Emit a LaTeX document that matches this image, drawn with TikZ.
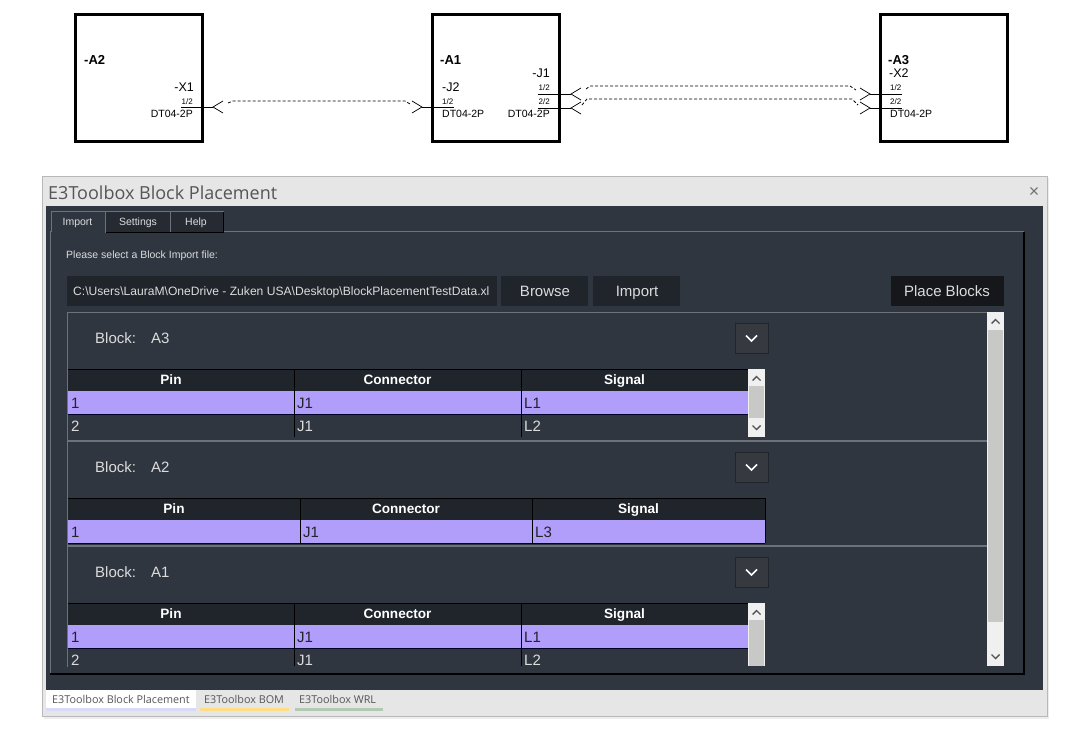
\documentclass[tikz,border=0pt]{standalone}
\usepackage{fontspec}
\setmainfont{Liberation Sans}
\newfontfamily\uifont{Open Sans}
\usetikzlibrary{calc}
\definecolor{panelcol}{HTML}{2F3640}
\definecolor{headcol}{HTML}{20242B}
\definecolor{rowcol}{HTML}{B19DFA}
\definecolor{linecol}{HTML}{6E7278}
\definecolor{rowtext}{HTML}{DCDCDC}
\definecolor{barcol}{HTML}{F0F0F0}
\definecolor{thumbcol}{HTML}{C8C9C7}
\definecolor{arrowcol}{HTML}{555555}
\definecolor{wincol}{HTML}{E6E6E6}
\definecolor{placecol}{HTML}{15171B}
\tikzstyle{blockbox}=[draw=black,line width=3pt]
\tikzstyle{wire}=[black,line width=0.9pt]
\tikzstyle{dashwire}=[black,line width=0.8pt,dash pattern=on 3pt off 2pt]
\tikzstyle{bigtag}=[inner sep=0,font=\fontsize{12.5}{14}\selectfont]
\tikzstyle{boldtag}=[inner sep=0,font=\bfseries\fontsize{13}{14}\selectfont]
\tikzstyle{pintag}=[inner sep=0,font=\fontsize{8}{10}\selectfont]
\tikzstyle{parttag}=[inner sep=0,font=\fontsize{10.5}{11}\selectfont]
\tikzstyle{tabtext}=[inner sep=0,text height=7.5pt,text depth=0pt,text=rowtext,font=\fontsize{10.5}{12}\selectfont]
\tikzstyle{buttontext}=[inner sep=0,text height=10.7pt,text depth=0pt,text=rowtext,font=\fontsize{15}{16}\selectfont]
\tikzstyle{headtext}=[inner sep=0,text height=9.7pt,text depth=0pt,text=white,font=\bfseries\fontsize{13.6}{16}\selectfont]
\tikzstyle{celltext}=[inner sep=0,text height=10.7pt,text depth=0pt,font=\fontsize{15}{16}\selectfont]
\tikzstyle{blocktext}=[inner sep=0,text height=10.7pt,text depth=0pt,text=rowtext,font=\fontsize{15}{16}\selectfont]
\tikzstyle{pathtext}=[inner sep=0,text height=8.7pt,text depth=0pt,text=rowtext,font=\fontsize{12.1}{13}\selectfont]
\tikzstyle{footertext}=[inner sep=0,text=arrowcol,font=\uifont\fontsize{10.8}{12}\selectfont]
\newcommand{\newchevron}[2]{% tip coordinate, direction of the arms
  \draw[wire,line width=0.7pt] ($(#1)+(#2*10,-6)$) -- (#1) -- ($(#1)+(#2*10,6)$);
}
\newcommand{\setcols}[4]{
  \def\colA{#1}\def\colB{#2}\def\colC{#3}\def\colD{#4}
}
\newcommand{\newhead}[2]{% name, top
  \pgfmathsetmacro{\headmid}{#2+11}
  \fill[headcol] (\colA,#2) rectangle (\colD,#2+22);
  \draw[black] (\colA,#2) -- (\colD,#2);
  \draw[black] (\colB,#2) -- (\colB,#2+22) (\colC,#2) -- (\colC,#2+22);
  \node[headtext] (#1p) at ({(\colA+\colB)/2-10},\headmid) {Pin};
  \node[headtext] (#1c) at ({(\colB+\colC)/2-10},\headmid) {Connector};
  \node[headtext] (#1s) at ({(\colC+\colD)/2-10},\headmid) {Signal};
}
\newcommand{\newrow}[7][rowtext]{% text colour, name, top, bottom, three cells
  \pgfmathsetmacro{\rowmid}{#3+12.5}
  \draw[black] (\colB,#3) -- (\colB,#4) (\colC,#3) -- (\colC,#4);
  \node[celltext,text=#1,anchor=west] (#2a) at (\colA+3,\rowmid) {#5};
  \node[celltext,text=#1,anchor=west] (#2b) at (\colB+3,\rowmid) {#6};
  \node[celltext,text=#1,anchor=west] (#2c) at (\colC+3,\rowmid) {#7};
}
\newcommand{\selectrow}[2]{% top, bottom
  \fill[rowcol] (\colA,#1) rectangle (\colD,#2);
  \draw[black!85!blue] (\colA,#2) -- (\colD,#2);
}
\newcommand{\upmark}[2]{
  \draw[arrowcol,line width=1.4pt] (#1-4,#2+2.5) -- (#1,#2-1.5) -- (#1+4,#2+2.5);
}
\newcommand{\downmark}[2]{
  \draw[arrowcol,line width=1.4pt] (#1-4,#2-2.5) -- (#1,#2+1.5) -- (#1+4,#2-2.5);
}
\newcommand{\newbar}[6]{% left, right, top, bottom, thumb top, thumb bottom
  \fill[barcol] (#1,#3) rectangle (#2,#4);
  \fill[thumbcol] (#1+1,#5) rectangle (#2-1,#6);
  \pgfmathsetmacro{\barmid}{(#1+#2)/2}
  \upmark{\barmid}{#3+9}
}
\newcommand{\newblockhead}[3]{% name, centre line, text
  \node[blocktext,anchor=west] (#1) at (95,#2) {Block:\hspace{15pt}#3};
  \draw[fill=headcol!90!white,draw=headcol] (735,#2-15) rectangle (768,#2+15);
  \draw[white,line width=1.6pt] (746,#2-2.5) -- (751.5,#2+3) -- (757,#2-2.5);
}
\begin{document}
\begin{tikzpicture}[x=1pt,y=-1pt]
  \useasboundingbox (0,0) rectangle (1086,731);
  \fill[white] (0,0) rectangle (1086,731);
  % schematic
  \draw[blockbox] (75,14) rectangle (202.5,141);
  \draw[blockbox] (432,14) rectangle (559,141);
  \draw[blockbox] (880,14) rectangle (1007.5,141);
  \node[boldtag,anchor=west] (tagA2) at (84,60) {-A2};
  \node[boldtag,anchor=west] (tagA1) at (440,60) {-A1};
  \node[boldtag,anchor=west] (tagA3) at (888,60) {-A3};
  \node[bigtag,anchor=east] (tagX1) at (194,87) {-X1};
  \node[bigtag,anchor=west] (tagJ2) at (442,87) {-J2};
  \node[bigtag,anchor=east] (tagJ1) at (550,73) {-J1};
  \node[bigtag,anchor=west] (tagX2) at (889,73) {-X2};
  \node[pintag,anchor=east] (pinX1) at (193,102) {1/2};
  \node[pintag,anchor=west] (pinJ2) at (442,102) {1/2};
  \node[pintag,anchor=east] (pinJ1a) at (550,88) {1/2};
  \node[pintag,anchor=east] (pinJ1b) at (550,102) {2/2};
  \node[pintag,anchor=west] (pinX2a) at (890,88) {1/2};
  \node[pintag,anchor=west] (pinX2b) at (890,102) {2/2};
  \node[parttag,anchor=east] (partX1) at (193,114) {DT04-2P};
  \node[parttag,anchor=west] (partJ2) at (442,114) {DT04-2P};
  \node[parttag,anchor=east] (partJ1) at (550,114) {DT04-2P};
  \node[parttag,anchor=west] (partX2) at (890,114) {DT04-2P};
  \coordinate (stubA) at (181,107);
  \coordinate (tipA) at (213,107);
  \coordinate (tipB) at (422,107);
  \coordinate (stubB) at (454,107);
  \coordinate (stubC) at (538,94);
  \coordinate (tipC) at (571,94);
  \coordinate (stubD) at (538,108);
  \coordinate (tipD) at (571,108);
  \coordinate (tipE) at (870,94);
  \coordinate (stubE) at (902,94);
  \coordinate (tipF) at (870,108);
  \coordinate (stubF) at (902,108);
  \foreach \a/\b in {stubA/tipA,tipB/stubB,stubC/tipC,stubD/tipD,tipE/stubE,tipF/stubF}
    \draw[wire] (\a) -- (\b);
  \foreach \t in {tipA,tipC,tipD} {\newchevron{\t}{1}}
  \foreach \t in {tipB,tipE,tipF} {\newchevron{\t}{-1}}
  \draw[dashwire] ($(tipA)+(15,-4)$) -- ($(tipA)+(20,-6)$) -- ($(tipB)+(-17,-6)$) -- ($(tipB)+(-12,-3)$);
  \draw[dashwire] ($(tipC)+(15,-5)$) -- ($(tipC)+(19,-8)$) -- ($(tipE)+(-20,-8)$) -- ($(tipE)+(-14,-4)$);
  \draw[dashwire] ($(tipD)+(11,-3)$) -- ($(tipD)+(16,-9)$) -- ($(tipF)+(-18,-9)$) -- ($(tipF)+(-12,-3)$);
  % window
  \fill[black!7] (44,178) rectangle (1048.5,718.5);
  \draw[fill=wincol,draw=black!28] (42,176) rectangle (1047,716);
  \fill[panelcol] (46,206) rectangle (1043,690);
  \node[inner sep=0,anchor=west,text=arrowcol,font=\uifont\fontsize{18}{20}\selectfont] (wintitle) at (48,193) {E3Toolbox Block Placement};
  \node[inner sep=0,text=black!55,font=\fontsize{18}{18}\selectfont] (winclose) at (1034,192) {×};
  % tabs
  \draw[linecol] (50,674) -- (50,231.5) -- (1024,231.5);
  \draw[black,line width=1.2pt] (50,674) -- (1024,674) -- (1024,231.5);
  \fill[panelcol] (51,212) rectangle (105,233);
  \draw[linecol] (51,232) -- (51,211) -- (105,211) -- (105,232);
  \draw[fill=headcol!60!panelcol,draw=linecol] (105,211) rectangle (170,232);
  \draw[fill=headcol!60!panelcol,draw=linecol] (170,211) rectangle (223,232);
  \draw[black] (106,232) -- (223,232) -- (223,212);
  \node[tabtext] (tabimport) at (77.5,222) {Import};
  \node[tabtext] (tabsettings) at (138,222) {Settings};
  \node[tabtext] (tabhelp) at (196,222) {Help};
  % file row
  \node[tabtext,anchor=west] (filelabel) at (66,255) {Please select a Block Import file:};
  \fill[headcol] (67,276) rectangle (497,306);
  \fill[headcol] (501,276) rectangle (588,306);
  \fill[headcol] (593,276) rectangle (680,306);
  \fill[placecol] (891,276) rectangle (1004,306);
  \node[pathtext,anchor=west] (filepath) at (73,291) {C:\textbackslash Users\textbackslash LauraM\textbackslash OneDrive - Zuken USA\textbackslash Desktop\textbackslash BlockPlacementTestData.xl};
  \node[buttontext] (browse) at (545,291) {Browse};
  \node[buttontext] (import) at (637,291) {Import};
  \node[buttontext] (place) at (947,291) {Place Blocks};
  % block list
  \draw[linecol] (67.5,667) -- (67.5,312.5) -- (987,312.5);
  \draw[linecol,line width=1.6pt] (68,441) -- (987,441) (68,546) -- (987,546);
  \newbar{987}{1004}{312}{666}{330}{622}
  \downmark{995.5}{657}
  \newblockhead{blockA3}{338}{A3}
  \newblockhead{blockA2}{467}{A2}
  \newblockhead{blockA1}{572}{A1}
  % table A3
  \setcols{68}{294}{521}{748}
  \newhead{ta}{369}
  \selectrow{391}{414}
  \newrow[headcol]{taa}{391}{414}{1}{J1}{L1}
  \newrow{tab}{414}{437}{2}{J1}{L2}
  \newbar{748}{765}{369}{437}{386}{418}
  \downmark{756.5}{428}
  % table A2
  \setcols{68}{300}{532}{765}
  \newhead{tb}{498}
  \selectrow{520}{543}
  \newrow[headcol]{tba}{520}{543}{1}{J1}{L3}
  \draw[black] (\colD,498) -- (\colD,543);
  % table A1
  \setcols{68}{294}{521}{748}
  \newhead{tc}{603}
  \selectrow{625}{648}
  \newrow[headcol]{tca}{625}{648}{1}{J1}{L1}
  \newrow{tcb}{648}{666}{2}{J1}{L2}
  \newbar{748}{765}{603}{666}{620}{666}
  % bottom tabs
  \fill[white] (46,690) rectangle (196,711);
  \fill[black!15!blue!15!white] (46,708) rectangle (196,711);
  \fill[yellow!50!orange!45!white] (200,708) rectangle (289,711);
  \fill[green!30!black!30!white] (295,708) rectangle (383,711);
  \node[footertext,anchor=west] (foota) at (52,699) {E3Toolbox Block Placement};
  \node[footertext,anchor=west] (footb) at (204,699) {E3Toolbox BOM};
  \node[footertext,anchor=west] (footc) at (299,699) {E3Toolbox WRL};
\end{tikzpicture}
\end{document}
